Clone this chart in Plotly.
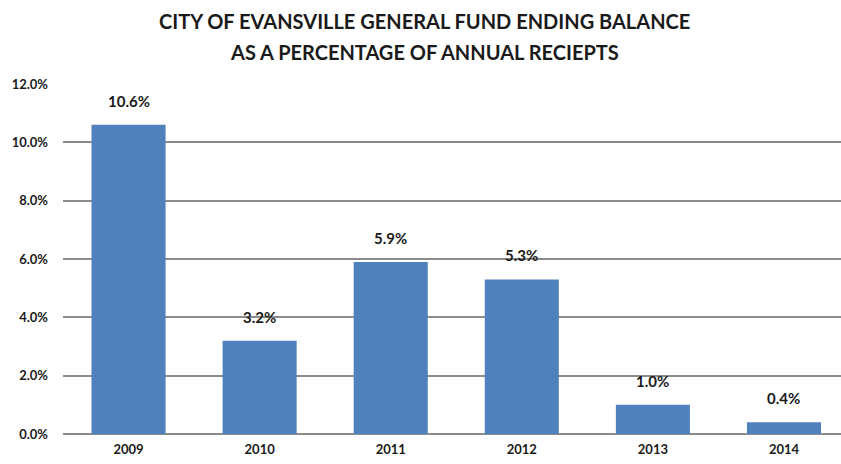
import plotly.graph_objects as go

years = ["2009", "2010", "2011", "2012", "2013", "2014"]
values = [10.6, 3.2, 5.9, 5.3, 1.0, 0.4]
tick_vals = [0, 2, 4, 6, 8, 10, 12]
tick_text = ["0.0%", "2.0%", "4.0%", "6.0%", "8.0%", "10.0%", "12.0%"]
title_lines = ["CITY OF EVANSVILLE GENERAL FUND ENDING BALANCE",
               "AS A PERCENTAGE OF ANNUAL RECIEPTS"]

FONT = "Lato"
TXT = "#1a1a1a"

fig = go.Figure()
fig.add_trace(go.Bar(
    x=list(range(len(years))), y=values, marker_color="#4F81BD", width=0.565,
    marker_line_width=0,
))

for i, v in enumerate(values):
    fig.add_annotation(x=i, y=v, text=f"<b>{v:.1f}%</b>", showarrow=False,
                       yanchor="bottom", yshift=13,
                       font=dict(family=FONT, size=15, color=TXT))

for line, ypx in zip(title_lines, [21, 52]):
    fig.add_annotation(xref="paper", yref="paper", x=(424 - 63) / 778,
                       y=1 + (84 - ypx) / 350, xanchor="center", yanchor="middle",
                       text=f"<b>{line}</b>", showarrow=False,
                       font=dict(family=FONT, size=20, color=TXT))

fig.update_layout(
    width=841, height=464,
    margin=dict(l=63, r=0, t=84, b=30),
    paper_bgcolor="white", plot_bgcolor="white",
    showlegend=False,
)
fig.update_xaxes(
    range=[-0.5, 5.435],
    tickvals=list(range(len(years))), ticktext=[f"<b>{y}</b>" for y in years],
    tickfont=dict(family=FONT, size=13, color=TXT),
    showgrid=False, showline=False, zeroline=False, ticks="", ticklabelstandoff=6,
)
fig.update_yaxes(
    range=[0, 12], tickvals=tick_vals, ticktext=[f"<b>{t}</b>" for t in tick_text],
    tickfont=dict(family=FONT, size=13, color=TXT),
    showgrid=True, gridcolor="#8c8c8c", gridwidth=1.5,
    zeroline=True, zerolinecolor="#8c8c8c", zerolinewidth=1.5,
    showline=False, ticks="", ticklabelstandoff=14,
)

fig.write_html("out.html")
